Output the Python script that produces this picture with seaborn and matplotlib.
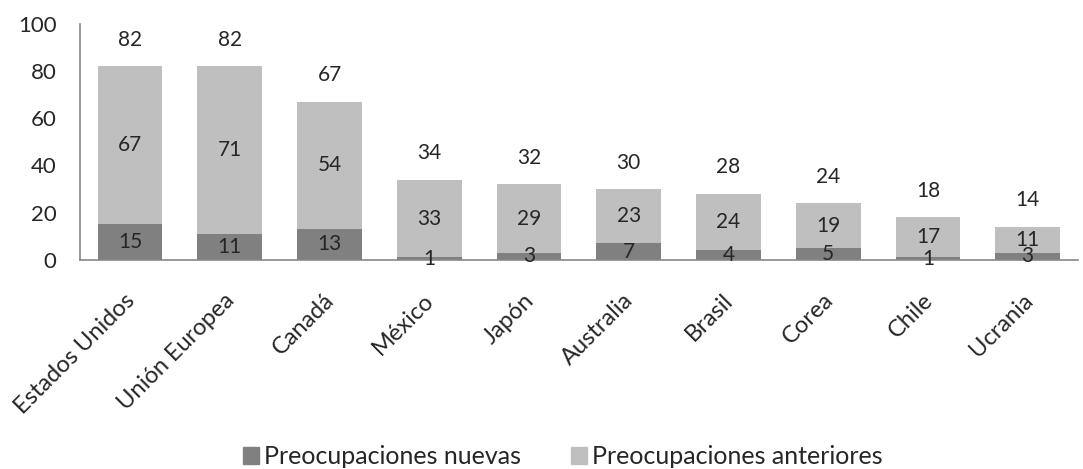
import numpy as np
import pandas as pd
import matplotlib
matplotlib.use("Agg")
import matplotlib.pyplot as plt
import matplotlib.transforms as mtransforms
import seaborn as sns
from matplotlib.patches import Patch

paises = ["Estados Unidos", "Unión Europea", "Canadá", "México", "Japón",
          "Australia", "Brasil", "Corea", "Chile", "Ucrania"]
nuevas = [15, 11, 13, 1, 3, 7, 4, 5, 1, 3]
anteriores = [67, 71, 54, 33, 29, 23, 24, 19, 17, 11]

df = pd.DataFrame({"pais": paises, "nuevas": nuevas, "anteriores": anteriores})
df["total"] = df.nuevas + df.anteriores

sns.set_style("white")
plt.rcParams['font.family'] = ['Lato', 'DejaVu Sans']

col_nuevas = "#808080"
col_anteriores = "#bfbfbf"

fig = plt.figure(figsize=(10.83, 4.69), dpi=100)
ax = fig.add_axes([0.074, 0.446, 0.921, 0.503])

# barra total (clara) y encima la parte nueva (oscura)
sns.barplot(data=df, x="pais", y="total", color=col_anteriores, width=0.65,
            saturation=1, linewidth=0, ax=ax)
sns.barplot(data=df, x="pais", y="nuevas", color=col_nuevas, width=0.65,
            saturation=1, linewidth=0, ax=ax)

fs = 15
for i, row in df.iterrows():
    ax.text(i, row.nuevas / 2, str(row.nuevas), ha="center", va="center", fontsize=fs)
    ax.text(i, row.nuevas + row.anteriores / 2, str(row.anteriores),
            ha="center", va="center", fontsize=fs)
    ax.annotate(str(row.total), (i, row.total), xytext=(0, 19),
                textcoords="offset points", ha="center", va="center", fontsize=fs)

ax.set_ylim(0, 100)
ax.set_xlim(-0.5, len(paises) - 0.5)
ax.set_yticks(range(0, 101, 20))
ax.set_xlabel("")
ax.set_ylabel("")
ax.tick_params(axis="y", length=0, labelsize=16, pad=17)
ax.tick_params(axis="x", length=0, labelsize=17, pad=12)
shift = mtransforms.ScaledTranslation(-6 / 100, -13 / 100, fig.dpi_scale_trans)
for lab in ax.get_xticklabels():
    lab.set_rotation(45)
    lab.set_ha("right")
    lab.set_rotation_mode("anchor")
    lab.set_transform(lab.get_transform() + shift)

sns.despine(ax=ax)
for s in ["left", "bottom"]:
    ax.spines[s].set_color("#888888")
    ax.spines[s].set_linewidth(1.2)

handles = [Patch(color=col_nuevas, label="Preocupaciones nuevas"),
           Patch(color=col_anteriores, label="Preocupaciones anteriores")]
fig.legend(handles=handles, loc="center", bbox_to_anchor=(0.52, 0.026), ncol=2,
           frameon=False, fontsize=18, handlelength=0.64, handleheight=0.64,
           handletextpad=0.2, columnspacing=2.0, borderpad=0)

fig.savefig("out.png", dpi=100)
